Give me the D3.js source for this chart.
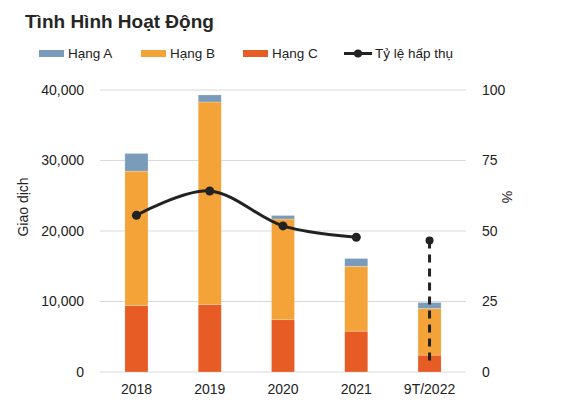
<!DOCTYPE html>
<html>
<head>
<meta charset="utf-8">
<script src="https://cdn.jsdelivr.net/npm/d3@7"></script>
<style>
  body { margin: 0; background: #fff; }
  text { font-family: "Liberation Sans", Arial, sans-serif; }
</style>
</head>
<body>
<svg id="chart"></svg>
<script>
const years = ['2018', '2019', '2020', '2021', '9T/2022'];
const hangC = [9400, 9600, 7400, 5800, 2400];
const hangB = [19100, 28700, 14300, 9200, 6600];
const hangA = [2500, 1000, 500, 1100, 850];
const tyLe = [55.6, 64.2, 51.8, 47.8];        // 2018-2021, smoothed line
const tyLe2022 = [46.6, 2.3];                  // dashed segment at 9T/2022
const leftTicks = [0, 10000, 20000, 30000, 40000];
const rightTicks = [0, 25, 50, 75, 100];

const colors = { A: '#7a9cba', B: '#f4a338', C: '#e75b25' };

const width = 569, height = 402;
const margin = { top: 90, right: 103, bottom: 30, left: 100 };

const svg = d3.select('#chart')
    .attr('width', width)
    .attr('height', height);

svg.append('text')
    .attr('x', 25).attr('y', 28)
    .attr('font-size', 19).attr('font-weight', 'bold')
    .attr('fill', '#262626')
    .text('Tình Hình Hoạt Động');

const x = d3.scaleBand()
    .domain(years)
    .range([margin.left, width - margin.right])
    .paddingInner(0.685).paddingOuter(0.34);

const y = d3.scaleLinear()
    .domain([0, 40000])
    .range([height - margin.bottom, margin.top]);

const y2 = d3.scaleLinear()
    .domain([0, 100])
    .range([height - margin.bottom, margin.top]);

// gridlines
svg.append('g')
    .selectAll('line')
    .data(leftTicks)
    .join('line')
    .attr('x1', margin.left).attr('x2', width - margin.right)
    .attr('y1', d => y(d)).attr('y2', d => y(d))
    .attr('stroke', '#d9d9d9').attr('stroke-width', 1);

// left axis
const leftAxis = svg.append('g')
    .attr('transform', `translate(${margin.left - 13},0)`)
    .call(d3.axisLeft(y).tickValues(leftTicks).tickSize(0).tickFormat(d3.format(',')));
leftAxis.select('.domain').remove();
leftAxis.selectAll('text').attr('font-size', 14).attr('fill', '#222')
    .style('font-family', '"Liberation Sans", Arial, sans-serif');

// right axis
const rightAxis = svg.append('g')
    .attr('transform', `translate(${width - margin.right + 13},0)`)
    .call(d3.axisRight(y2).tickValues(rightTicks).tickSize(0));
rightAxis.select('.domain').remove();
rightAxis.selectAll('text').attr('font-size', 14).attr('fill', '#222')
    .style('font-family', '"Liberation Sans", Arial, sans-serif');

// bottom axis
const bottomAxis = svg.append('g')
    .attr('transform', `translate(0,${height - margin.bottom})`)
    .call(d3.axisBottom(x).tickSize(0).tickPadding(12));
bottomAxis.select('.domain').remove();
bottomAxis.selectAll('text').attr('font-size', 14).attr('fill', '#222')
    .style('font-family', '"Liberation Sans", Arial, sans-serif');

// axis titles
svg.append('text')
    .attr('transform', 'translate(28,207) rotate(-90)')
    .attr('text-anchor', 'middle')
    .attr('font-size', 14).attr('fill', '#222')
    .text('Giao dịch');

svg.append('text')
    .attr('transform', 'translate(502,197) rotate(90)')
    .attr('text-anchor', 'middle')
    .attr('font-size', 14).attr('fill', '#222')
    .text('%');

// stacked bars
const rows = years.map((yr, i) => ({ year: yr, C: hangC[i], B: hangB[i], A: hangA[i] }));
const stack = d3.stack().keys(['C', 'B', 'A'])(rows);

svg.append('g')
    .selectAll('g')
    .data(stack)
    .join('g')
    .attr('fill', d => colors[d.key])
    .selectAll('rect')
    .data(d => d)
    .join('rect')
    .attr('x', d => x(d.data.year))
    .attr('width', x.bandwidth())
    .attr('y', d => y(d[1]))
    .attr('height', d => y(d[0]) - y(d[1]))
    .attr('stroke', '#fff').attr('stroke-width', 0.4).attr('stroke-opacity', 0.6);

// line
const cx = d => x(d) + x.bandwidth() / 2;
const pts = tyLe.map((v, i) => [cx(years[i]), y2(v)]);

svg.append('path')
    .datum(pts)
    .attr('fill', 'none')
    .attr('stroke', '#222')
    .attr('stroke-width', 3)
    .attr('d', d3.line().curve(d3.curveCatmullRom.alpha(0)));

svg.selectAll('.dot')
    .data(pts)
    .join('circle')
    .attr('cx', d => d[0]).attr('cy', d => d[1])
    .attr('r', 4.5).attr('fill', '#222');

// dashed segment for 9T/2022
const x22 = cx(years[4]);
svg.append('line')
    .attr('x1', x22).attr('x2', x22)
    .attr('y1', y2(tyLe2022[0])).attr('y2', y2(tyLe2022[1]))
    .attr('stroke', '#222').attr('stroke-width', 3)
    .attr('stroke-dasharray', '8,6');

svg.append('circle')
    .attr('cx', x22).attr('cy', y2(tyLe2022[0]))
    .attr('r', 4).attr('fill', '#222');

// legend
const legend = [
    { label: 'Hạng A', color: colors.A, x: 39 },
    { label: 'Hạng B', color: colors.B, x: 141 },
    { label: 'Hạng C', color: colors.C, x: 243 }
];
const lg = svg.append('g');
legend.forEach(l => {
    lg.append('rect')
        .attr('x', l.x).attr('y', 50)
        .attr('width', 25).attr('height', 7)
        .attr('fill', l.color);
    lg.append('text')
        .attr('x', l.x + 29).attr('y', 58)
        .attr('font-size', 13.5).attr('fill', '#222')
        .text(l.label);
});
lg.append('line')
    .attr('x1', 344).attr('x2', 372).attr('y1', 53.5).attr('y2', 53.5)
    .attr('stroke', '#222').attr('stroke-width', 3);
lg.append('circle')
    .attr('cx', 358).attr('cy', 53.5).attr('r', 4).attr('fill', '#222');
lg.append('text')
    .attr('x', 375).attr('y', 58)
    .attr('font-size', 13.5).attr('fill', '#222')
    .text('Tỷ lệ hấp thụ');
</script>
</body>
</html>
